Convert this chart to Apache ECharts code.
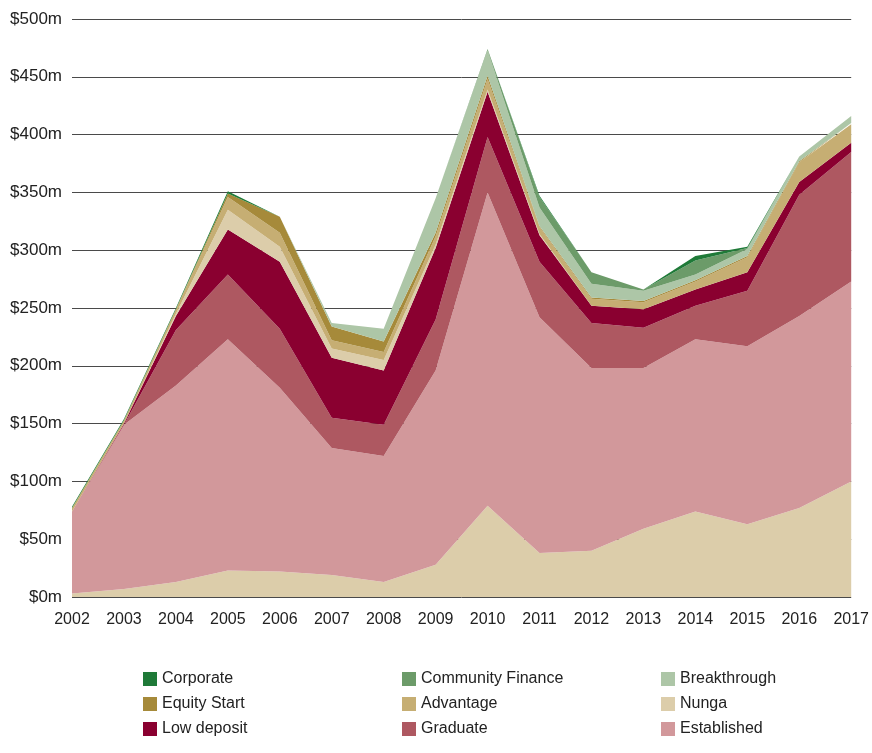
<!DOCTYPE html>
<html>
<head>
<meta charset="utf-8">
<script src="https://cdn.jsdelivr.net/npm/echarts@6/dist/echarts.min.js"></script>
<style>
html,body{margin:0;padding:0;background:#fff;overflow:hidden;}
#chart{width:872px;height:753px;}
</style>
</head>
<body>
<div id="chart"></div>
<script>
const years = ['2002','2003','2004','2005','2006','2007','2008','2009','2010','2011','2012','2013','2014','2015','2016','2017'];
const nungaBase = [3,7,13,23,22,19,13,28,79,38,40,59,74,63,77,100];
const established = [71,142,170,200,159,110,109,168,271,204,158,139,149,154,166,173];
const graduate = [0,0,48,56,51,26,27,44,48,48,39,35,29,48,105,112];
const lowDeposit = [0,1,12,39,58,52,47,62,39,23,15,16,14,16,11,8];
const nungaUpper = [0,0,2,17,13,8,9,3,2,1,0,0,0,0,0,0];
const advantage = [3,3,4,11,12,7,7,7,9,6,6,6,7,13,17,16];
const equityStart = [0,0,0,3,14,12,9,3,3,1,1,1,1,1,1,1];
const breakthrough = [0,0,0,0,0,3,11,30,22,16,12,9,5,6,4,6];
const communityFinance = [0,0,0,0,0,0,0,0,1,9,10,1,12,1,0,0];
const corporate = [1,1,1,2,0,0,0,0,0,1,0,0,4,1,0,0];
const yTicks = [0,50,100,150,200,250,300,350,400,450,500];

const FONT = '"Liberation Sans", Arial, sans-serif';
const colors = {
  'Corporate':'#1f7a38',
  'Community Finance':'#6c9b69',
  'Breakthrough':'#adc6a7',
  'Equity Start':'#a68a3a',
  'Advantage':'#c6ae73',
  'Nunga':'#dccdaa',
  'Low deposit':'#8a0030',
  'Graduate':'#ae5861',
  'Established':'#d2989b'
};
const stackDefs = [
  ['Nunga', nungaBase],
  ['Established', established],
  ['Graduate', graduate],
  ['Low deposit', lowDeposit],
  ['Nunga', nungaUpper],
  ['Advantage', advantage],
  ['Equity Start', equityStart],
  ['Breakthrough', breakthrough],
  ['Community Finance', communityFinance],
  ['Corporate', corporate]
];
const series = stackDefs.map(([name, data]) => ({
  name: name,
  type: 'line',
  stack: 'total',
  data: data,
  symbol: 'none',
  showSymbol: false,
  lineStyle: {width: 0},
  areaStyle: {color: colors[name], opacity: 1},
  itemStyle: {color: colors[name]},
  emphasis: {disabled: true}
}));

const legendBase = {
  orient: 'vertical',
  top: 666,
  itemWidth: 14,
  itemHeight: 14,
  itemGap: 9,
  icon: 'rect',
  textStyle: {fontFamily: FONT, fontSize: 16, color: '#222'},
  selectedMode: false
};

const chart = echarts.init(document.getElementById('chart'), null, {renderer: 'canvas', width: 872, height: 753});
chart.setOption({
  animation: false,
  color: Object.values(colors),
  grid: {left: 72, right: 13, top: 19, bottom: 156, containLabel: false},
  xAxis: {
    type: 'category',
    data: years,
    boundaryGap: false,
    axisLine: {show: false},
    axisTick: {show: false},
    axisLabel: {fontFamily: FONT, fontSize: 16, color: '#222', margin: 15},
    splitLine: {show: false}
  },
  yAxis: {
    type: 'value',
    min: yTicks[0],
    max: yTicks[yTicks.length - 1],
    interval: 50,
    axisLine: {show: false},
    axisTick: {show: false},
    axisLabel: {fontFamily: FONT, fontSize: 17, color: '#222', margin: 10,
      formatter: v => '$' + v + 'm'},
    splitLine: {lineStyle: {color: '#4a4a4a', width: 1}}
  },
  legend: [
    Object.assign({}, legendBase, {left: 138, data: ['Corporate','Equity Start','Low deposit']}),
    Object.assign({}, legendBase, {left: 397, data: ['Community Finance','Advantage','Graduate']}),
    Object.assign({}, legendBase, {left: 656, data: ['Breakthrough','Nunga','Established']})
  ],
  series: series
});
</script>
</body>
</html>
